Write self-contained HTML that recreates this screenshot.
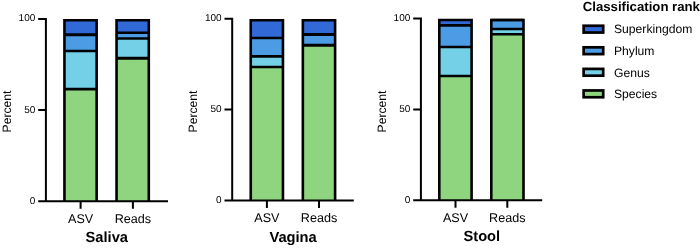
<!DOCTYPE html>
<html><head><meta charset="utf-8"><title>Classification rank</title>
<style>
html,body{margin:0;padding:0;background:#fff;}
body{width:700px;height:248px;overflow:hidden;}
svg{display:block;text-rendering:geometricPrecision;font-family:"Liberation Sans",Arial,sans-serif;fill:#000;}
.t{font-size:10px;text-anchor:end;}
.x{font-size:12.6px;text-anchor:middle;}
.h{font-size:14.7px;font-weight:bold;text-anchor:middle;}
.l{font-size:12.15px;}
.lt{font-size:13.2px;font-weight:bold;}
</style></head><body>
<svg width="700" height="248" viewBox="0 0 700 248">
<rect width="700" height="248" fill="#fff"/>
<g transform="translate(0.0,0)">
<rect x="64.45" y="20.30" width="32.20" height="14.45" fill="#3169d6"/>
<rect x="64.45" y="34.75" width="32.20" height="16.15" fill="#4b9ce5"/>
<rect x="64.45" y="50.90" width="32.20" height="38.20" fill="#73d0e7"/>
<rect x="64.45" y="89.10" width="32.20" height="112.20" fill="#8fd47f"/>
<line x1="64.45" x2="96.65" y1="34.75" y2="34.75" stroke="#000" stroke-width="3.1"/>
<line x1="64.45" x2="96.65" y1="50.90" y2="50.90" stroke="#000" stroke-width="2.5"/>
<line x1="64.45" x2="96.65" y1="89.10" y2="89.10" stroke="#000" stroke-width="2.7"/>
<path d="M64.45 201.30 V20.30 H96.65 V201.30" fill="none" stroke="#000" stroke-width="2.6"/>
<rect x="116.55" y="20.30" width="32.25" height="12.50" fill="#3169d6"/>
<rect x="116.55" y="32.80" width="32.25" height="5.75" fill="#4b9ce5"/>
<rect x="116.55" y="38.55" width="32.25" height="19.65" fill="#73d0e7"/>
<rect x="116.55" y="58.20" width="32.25" height="143.10" fill="#8fd47f"/>
<line x1="116.55" x2="148.80" y1="32.80" y2="32.80" stroke="#000" stroke-width="2.5"/>
<line x1="116.55" x2="148.80" y1="38.55" y2="38.55" stroke="#000" stroke-width="2.5"/>
<line x1="116.55" x2="148.80" y1="58.20" y2="58.20" stroke="#000" stroke-width="3.1"/>
<path d="M116.55 201.30 V20.30 H148.80 V201.30" fill="none" stroke="#000" stroke-width="2.6"/>
<path d="M38.2 18.9 H45.9 V201.3 M38.2 110.1 H45.9 M38.2 201.3 H168.0 M80.6 201.3 V208.80 M132.9 201.3 V208.80" fill="none" stroke="#000" stroke-width="2.0"/>
<text class="t" x="35.3" y="21.40">100</text>
<text class="t" x="35.3" y="112.95">50</text>
<text class="t" x="35.3" y="204.15">0</text>
<text class="x" x="80.6" y="222.60">ASV</text>
<text class="x" x="132.9" y="222.60">Reads</text>
<text class="h" x="106.8" y="242.1">Saliva</text>
<text class="x" style="font-size:12.15px" transform="translate(10.9,111.55) rotate(-90)">Percent</text>
</g>
<g transform="translate(186.3,0)">
<rect x="64.45" y="20.20" width="32.20" height="17.70" fill="#3169d6"/>
<rect x="64.45" y="37.90" width="32.20" height="18.40" fill="#4b9ce5"/>
<rect x="64.45" y="56.30" width="32.20" height="10.70" fill="#73d0e7"/>
<rect x="64.45" y="67.00" width="32.20" height="133.50" fill="#8fd47f"/>
<line x1="64.45" x2="96.65" y1="37.90" y2="37.90" stroke="#000" stroke-width="2.5"/>
<line x1="64.45" x2="96.65" y1="56.30" y2="56.30" stroke="#000" stroke-width="2.8"/>
<line x1="64.45" x2="96.65" y1="67.00" y2="67.00" stroke="#000" stroke-width="2.7"/>
<path d="M64.45 200.50 V20.20 H96.65 V200.50" fill="none" stroke="#000" stroke-width="2.6"/>
<rect x="116.55" y="20.20" width="32.25" height="14.30" fill="#3169d6"/>
<rect x="116.55" y="34.50" width="32.25" height="10.70" fill="#4b9ce5"/>
<rect x="116.55" y="45.20" width="32.25" height="155.30" fill="#8fd47f"/>
<line x1="116.55" x2="148.80" y1="34.50" y2="34.50" stroke="#000" stroke-width="2.8"/>
<line x1="116.55" x2="148.80" y1="45.20" y2="45.20" stroke="#000" stroke-width="3.1"/>
<path d="M116.55 200.50 V20.20 H148.80 V200.50" fill="none" stroke="#000" stroke-width="2.6"/>
<path d="M38.2 18.7 H45.9 V200.5 M38.2 109.6 H45.9 M38.2 200.5 H167.5 M80.6 200.5 V208.00 M132.7 200.5 V208.00" fill="none" stroke="#000" stroke-width="2.0"/>
<text class="t" x="35.3" y="21.20">100</text>
<text class="t" x="35.3" y="112.45">50</text>
<text class="t" x="35.3" y="203.35">0</text>
<text class="x" x="80.6" y="221.80">ASV</text>
<text class="x" x="132.7" y="221.80">Reads</text>
<text class="h" x="106.8" y="241.85">Vagina</text>
<text class="x" style="font-size:12.15px" transform="translate(10.9,111.55) rotate(-90)">Percent</text>
</g>
<g transform="translate(375.0,0)">
<rect x="64.30" y="20.00" width="32.30" height="5.30" fill="#3169d6"/>
<rect x="64.30" y="25.30" width="32.30" height="21.60" fill="#4b9ce5"/>
<rect x="64.30" y="46.90" width="32.30" height="29.10" fill="#73d0e7"/>
<rect x="64.30" y="76.00" width="32.30" height="124.20" fill="#8fd47f"/>
<line x1="64.30" x2="96.60" y1="25.30" y2="25.30" stroke="#000" stroke-width="2.8"/>
<line x1="64.30" x2="96.60" y1="46.90" y2="46.90" stroke="#000" stroke-width="2.5"/>
<line x1="64.30" x2="96.60" y1="76.00" y2="76.00" stroke="#000" stroke-width="2.7"/>
<path d="M64.30 200.20 V20.00 H96.60 V200.20" fill="none" stroke="#000" stroke-width="2.6"/>
<rect x="116.30" y="20.00" width="32.20" height="9.10" fill="#4b9ce5"/>
<rect x="116.30" y="29.10" width="32.20" height="5.20" fill="#73d0e7"/>
<rect x="116.30" y="34.30" width="32.20" height="165.90" fill="#8fd47f"/>
<line x1="116.30" x2="148.50" y1="20.00" y2="20.00" stroke="#000" stroke-width="2.6"/>
<line x1="116.30" x2="148.50" y1="29.10" y2="29.10" stroke="#000" stroke-width="2.5"/>
<line x1="116.30" x2="148.50" y1="34.30" y2="34.30" stroke="#000" stroke-width="2.5"/>
<path d="M116.30 200.20 V20.00 H148.50 V200.20" fill="none" stroke="#000" stroke-width="2.6"/>
<path d="M38.2 18.55 H45.9 V200.2 M38.2 109.4 H45.9 M38.2 200.2 H167.2 M80.5 200.2 V207.70 M132.3 200.2 V207.70" fill="none" stroke="#000" stroke-width="2.0"/>
<text class="t" x="35.3" y="21.05">100</text>
<text class="t" x="35.3" y="112.25">50</text>
<text class="t" x="35.3" y="203.05">0</text>
<text class="x" x="80.5" y="221.50">ASV</text>
<text class="x" x="132.3" y="221.50">Reads</text>
<text class="h" x="106.8" y="241.35">Stool</text>
<text class="x" style="font-size:12.15px" transform="translate(10.9,111.55) rotate(-90)">Percent</text>
</g>
<text class="lt" x="582.7" y="11.3">Classification rank</text>
<rect x="583.65" y="25.75" width="19.55" height="6.80" fill="#3169d6" stroke="#000" stroke-width="2.7"/>
<text class="l" x="614.0" y="33.30">Superkingdom</text>
<rect x="583.65" y="47.32" width="19.55" height="6.80" fill="#4b9ce5" stroke="#000" stroke-width="2.7"/>
<text class="l" x="614.0" y="54.92">Phylum</text>
<rect x="583.65" y="68.89" width="19.55" height="6.80" fill="#73d0e7" stroke="#000" stroke-width="2.7"/>
<text class="l" x="614.0" y="76.54">Genus</text>
<rect x="583.65" y="90.46" width="19.55" height="6.80" fill="#8fd47f" stroke="#000" stroke-width="2.7"/>
<text class="l" x="614.0" y="98.16">Species</text>
</svg></body></html>
